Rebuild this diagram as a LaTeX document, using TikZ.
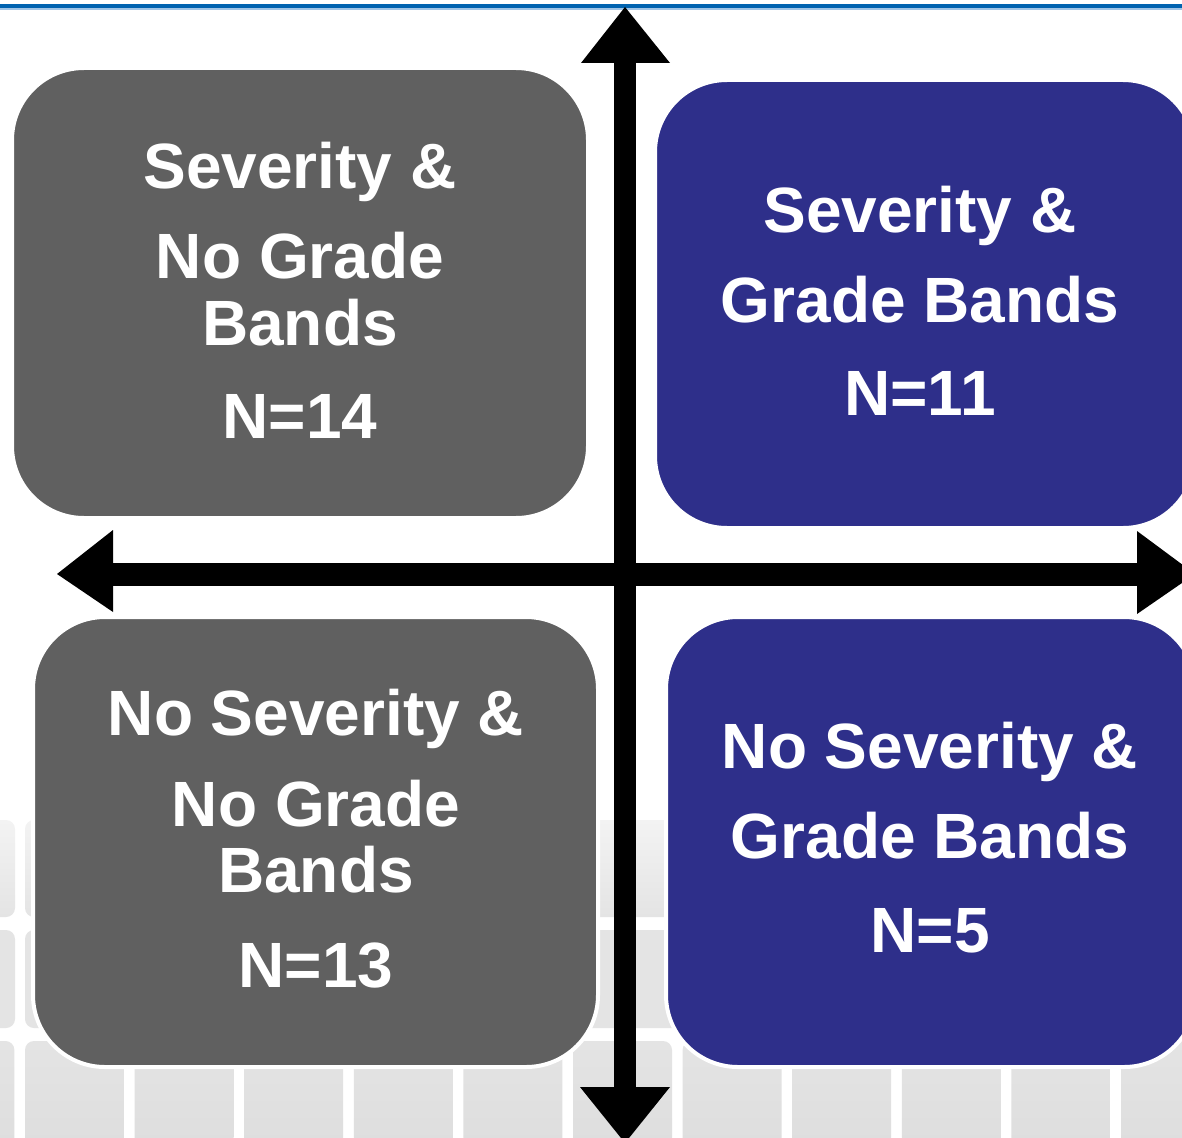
\documentclass[tikz,border=0pt]{standalone}
\usepackage{fontspec}
\setmainfont{Liberation Sans}
\definecolor{topblue}{RGB}{0,99,176}
\definecolor{lightblue}{RGB}{160,196,230}
\definecolor{boxgray}{RGB}{96,96,96}
\definecolor{boxblue}{RGB}{46,47,138}
\definecolor{keygray}{RGB}{228,228,228}
\definecolor{keylight}{RGB}{243,243,243}
\definecolor{keydark}{RGB}{221,221,221}
\begin{document}
\begin{tikzpicture}[x=1pt,y=-1pt,
  quad/.style={draw=white, line width=4pt, rounded corners=72pt, inner sep=0pt, outer sep=0pt},
  graybox/.style={quad, fill=boxgray},
  bluebox/.style={quad, fill=boxblue},
  lbl/.style={text=white, font=\bfseries\fontsize{64}{70}\selectfont, anchor=base, inner sep=0pt},
  key/.style={rounded corners=9pt},
  axis/.style={fill=black}]
\clip (0,0) rectangle (1182,1137);
\fill[white] (0,0) rectangle (1182,1137);
% top rule
\fill[topblue] (0,4) rectangle (1182,8.3);
\fill[lightblue] (0,8.3) rectangle (1182,9.6);
% background keyboard
\shade[key, top color=keylight, bottom color=keygray] (-60,820) rectangle (15,917);
\shade[key, top color=keylight, bottom color=keygray] (25,820) rectangle (1300,917);
\fill[key, keygray] (-60,930) rectangle (15,1028);
\fill[key, keygray] (25,930) rectangle (1300,1028);
\foreach \i in {-1,0,...,10}{
  \shade[key, top color=keygray, bottom color=keydark] ({25+109.6*\i},1041) rectangle ({124+109.6*\i},1160);
}
% quadrant boxes
\node[graybox, minimum width=576pt, minimum height=450pt] (tl) at (300,293) {};
\node[bluebox, minimum width=540pt, minimum height=448pt] (tr) at (925,304) {};
\node[graybox, minimum width=565pt, minimum height=450pt] (bl) at (315.5,842) {};
\node[bluebox, minimum width=530pt, minimum height=450pt] (br) at (931,842) {};
% axes
\fill[axis] (614,63) rectangle (636,1087);
\fill[axis] (581,63) -- (625,7) -- (670,63) -- cycle;
\fill[axis] (580,1087) -- (625,1143) -- (670,1087) -- cycle;
\fill[axis] (113,563) rectangle (1137,586);
\fill[axis] (113,530) -- (57,574) -- (113,612) -- cycle;
\fill[axis] (1137,531) -- (1195,574) -- (1137,614) -- cycle;
% labels
\node[lbl] (tl1) at (300,188) {Severity \&};
\node[lbl] (tl2) at (300,278) {No Grade};
\node[lbl] (tl3) at (300,345) {Bands};
\node[lbl] (tl4) at (300,438) {N=14};
\node[lbl] (tr1) at (920,232) {Severity \&};
\node[lbl] (tr2) at (920,322) {Grade Bands};
\node[lbl] (tr3) at (920,415) {N=11};
\node[lbl] (bl1) at (316,735) {No Severity \&};
\node[lbl] (bl2) at (316,826) {No Grade};
\node[lbl] (bl3) at (316,892) {Bands};
\node[lbl] (bl4) at (316,987) {N=13};
\node[lbl] (br1) at (930,768) {No Severity \&};
\node[lbl] (br2) at (930,858) {Grade Bands};
\node[lbl] (br3) at (930,952) {N=5};
\end{tikzpicture}
\end{document}
